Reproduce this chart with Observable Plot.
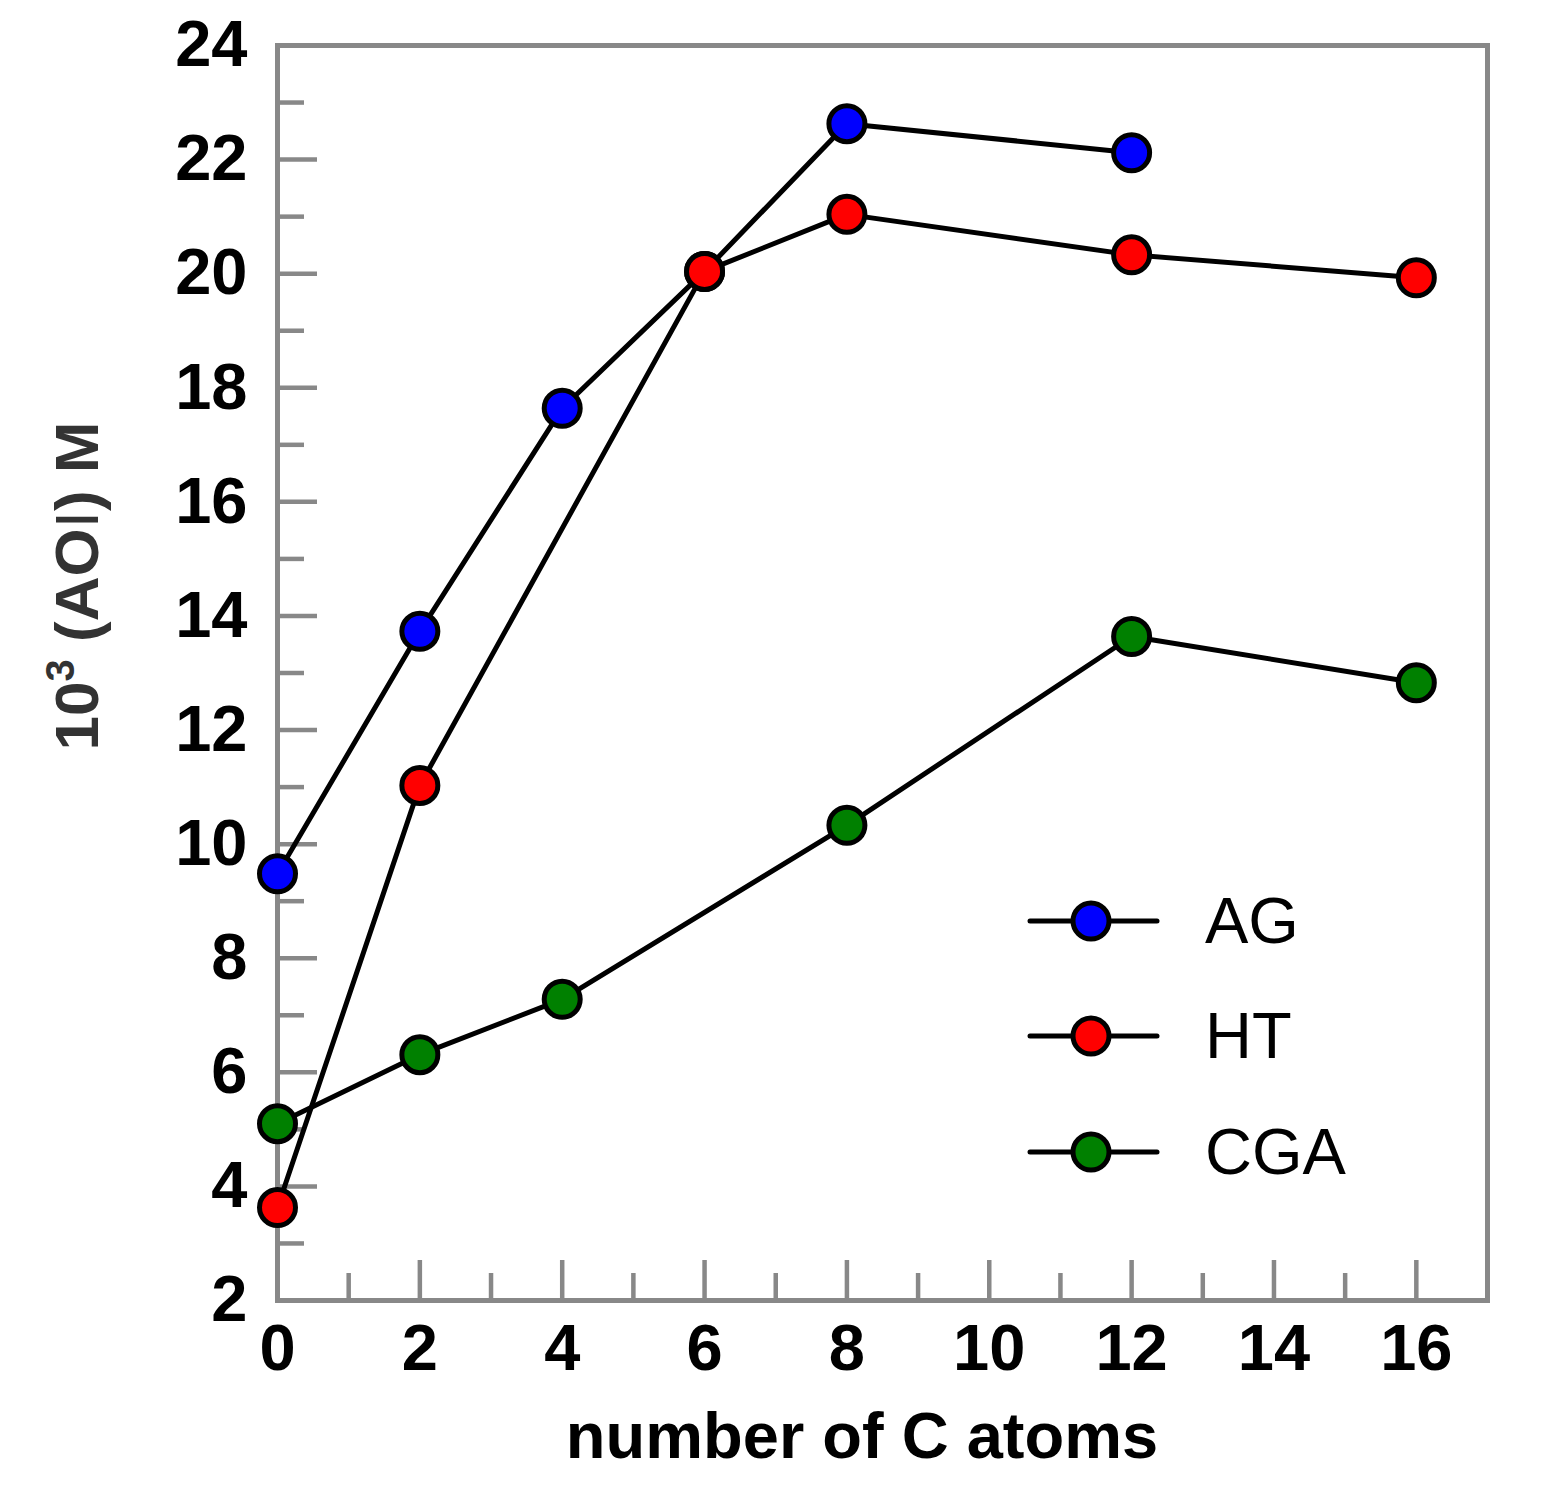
<!DOCTYPE html>
<html>
<head>
<meta charset="utf-8">
<script src="https://cdn.jsdelivr.net/npm/d3@7"></script>
<script src="https://cdn.jsdelivr.net/npm/@observablehq/plot@0.6"></script>
<style>
  html, body { margin: 0; padding: 0; background: #fff; overflow: hidden; }
  #chart { width: 1563px; height: 1488px; }
</style>
</head>
<body>
<div id="chart"></div>
<script>
// ---- data ----
const carbons = [0, 2, 4, 6, 8, 12, 16];
const seriesNames = ["AG", "HT", "CGA"];
const seriesColors = ["#0000ff", "#ff0000", "#008000"];
const agValues  = [9.48, 13.73, 17.64, 20.04, 22.63, 22.12, null];
const htValues  = [3.63, 11.03, null, 20.04, 21.04, 20.33, 19.93];
const cgaValues = [5.10, 6.31, 7.28, null, 10.33, 13.64, 12.83];
const xMajorTicks = [0, 2, 4, 6, 8, 10, 12, 14, 16];
const xMinorTicks = [1, 3, 5, 7, 9, 11, 13, 15];
const yMajorTicks = [2, 4, 6, 8, 10, 12, 14, 16, 18, 20, 22, 24];
const yMinorTicks = [3, 5, 7, 9, 11, 13, 15, 17, 19, 21, 23];
const xTitle = "number of C atoms";

const allValues = [agValues, htValues, cgaValues];
const rows = seriesNames.flatMap((s, i) =>
  carbons.map((c, j) => ({s, c, v: allValues[i][j]})).filter(d => d.v != null)
);

// ---- layout ----
const W = 1563, H = 1488;
const mL = 277, mR = 76, mT = 45, mB = 188;
const pw = W - mL - mR, ph = H - mT - mB;
const font = "'Liberation Sans', Arial, Helvetica, sans-serif";
const gray = "#888888";

const chart = Plot.plot({
  width: W, height: H,
  marginLeft: mL, marginRight: mR, marginTop: mT, marginBottom: mB,
  style: {fontFamily: font, background: "#fff", overflow: "visible", maxWidth: "none"},
  x: {domain: [0, 17]},
  y: {domain: [2, 24]},
  color: {domain: seriesNames, range: seriesColors},
  marks: [
    // inward ticks
    Plot.ruleX(xMajorTicks, {x: d => d, insetTop: ph - 40, stroke: gray, strokeWidth: 4.5}),
    Plot.ruleX(xMinorTicks, {x: d => d, insetTop: ph - 27, stroke: gray, strokeWidth: 4.5}),
    Plot.ruleY(yMajorTicks, {y: d => d, insetRight: pw - 40, stroke: gray, strokeWidth: 4.5}),
    Plot.ruleY(yMinorTicks, {y: d => d, insetRight: pw - 27, stroke: gray, strokeWidth: 4.5}),
    Plot.frame({stroke: gray, strokeWidth: 5}),
    Plot.axisX(xMajorTicks, {tickSize: 0, tickPadding: 23, label: null, tickFormat: d => String(d), fontSize: 65, fontWeight: "bold", fill: "black"}),
    Plot.axisY(yMajorTicks, {tickSize: 0, tickPadding: 30, label: null, tickFormat: d => String(d), fontSize: 65, fontWeight: "bold", fill: "black"}),
    Plot.line(rows, {x: "c", y: "v", z: "s", stroke: "black", strokeWidth: 5}),
    Plot.dot(rows, {x: "c", y: "v", fill: "s", r: 18, stroke: "black", strokeWidth: 5})
  ]
});
document.getElementById("chart").appendChild(chart);

// ---- titles & legend ----
const svg = d3.select(chart);
svg.append("text")
  .attr("x", 862).attr("y", 1458)
  .attr("text-anchor", "middle")
  .attr("font-family", font).attr("font-size", 65).attr("font-weight", "bold")
  .attr("fill", "black")
  .text(xTitle);

const yt = svg.append("text")
  .attr("transform", "translate(98,586) rotate(-90)")
  .attr("text-anchor", "middle")
  .attr("font-family", font).attr("font-size", 62).attr("font-weight", "bold")
  .attr("fill", "#333333");
yt.append("tspan").text("10");
yt.append("tspan").attr("font-size", 40).attr("dy", -24).text("3");
yt.append("tspan").attr("dy", 24).text(" (AO");
yt.append("tspan").attr("font-weight", "normal").text("I");
yt.append("tspan").text(") M");

const lg = svg.append("g");
const legendRowsY = [921, 1036, 1152];
seriesNames.forEach((name, i) => {
  const y = legendRowsY[i];
  lg.append("line").attr("x1", 1030).attr("x2", 1157).attr("y1", y).attr("y2", y)
    .attr("stroke", "black").attr("stroke-width", 5).attr("stroke-linecap", "round");
  lg.append("circle").attr("cx", 1091).attr("cy", y).attr("r", 18)
    .attr("fill", seriesColors[i]).attr("stroke", "black").attr("stroke-width", 5);
  lg.append("text").attr("x", 1205).attr("y", y + 22)
    .attr("text-anchor", "start")
    .attr("font-family", font).attr("font-size", 65).attr("fill", "black")
    .text(name);
});
</script>
</body>
</html>
